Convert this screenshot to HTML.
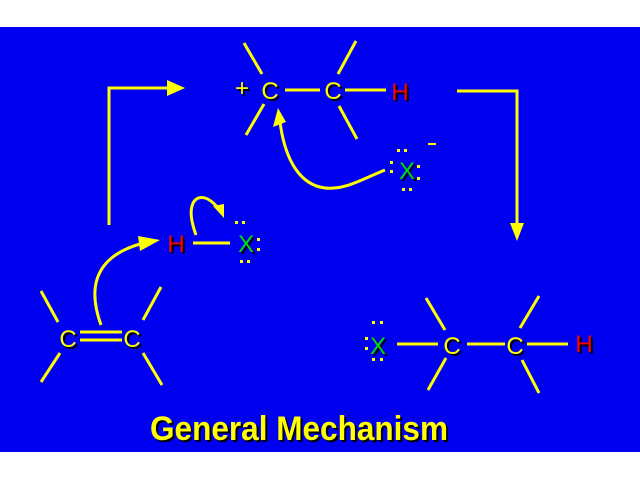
<!DOCTYPE html>
<html><head><style>html,body{margin:0;padding:0;background:#fff;}svg{display:block;}</style></head><body>
<svg width="640" height="480" xmlns="http://www.w3.org/2000/svg" font-family="Liberation Sans, sans-serif">
<rect x="0" y="27" width="640" height="425" fill="#0000F0"/>
<g stroke="#FFFF00" stroke-width="3" fill="none">
<polyline points="109,225 109,88 172,88"/>
<polyline points="457,91 517,91 517,225"/>
<line x1="285" y1="90" x2="320" y2="90"/><line x1="345" y1="90" x2="386" y2="90"/>
<line x1="244" y1="43" x2="262" y2="74"/><line x1="264" y1="104" x2="246" y2="135"/>
<line x1="356" y1="41" x2="338" y2="74"/><line x1="339" y1="106" x2="357" y2="139"/>
<path d="M385,170 C360,180 345,190 325,188 C300,185 285,160 280,122"/>
<line x1="193" y1="243" x2="230" y2="243"/>
<path d="M196,235 C185,205 195,195 205,198 C212,200 218,208 222,212"/>
<path d="M101,325 C92,300 85,260 140,244"/>
<line x1="80" y1="332" x2="122" y2="332"/><line x1="80" y1="340" x2="122" y2="340"/>
<line x1="41" y1="291" x2="58" y2="322"/><line x1="60" y1="353" x2="41" y2="382"/>
<line x1="161" y1="287" x2="143" y2="320"/><line x1="143" y1="353" x2="162" y2="385"/>
<line x1="397" y1="344" x2="438" y2="344"/><line x1="467" y1="344" x2="505" y2="344"/><line x1="527" y1="344" x2="568" y2="344"/>
<line x1="426" y1="298" x2="445" y2="330"/><line x1="446" y1="358" x2="428" y2="390"/>
<line x1="539" y1="296" x2="520" y2="328"/><line x1="522" y1="360" x2="539" y2="393"/>
</g>
<g fill="#FFFF00">
<polygon points="167,80 185,88 167,96"/>
<polygon points="510,223 517,241 524,223"/>
<polygon points="278,108 273,127 286,122"/>
<polygon points="213,206 224,218 224,204"/>
<polygon points="138,236 160,240 140,251"/>
</g>
<g font-size="24" text-anchor="middle">
<g fill="#000" transform="translate(2,2)">
<text x="242" y="96">+</text><text x="270" y="99">C</text><text x="333" y="99">C</text><text x="400" y="100">H</text>
<text x="407" y="179">X</text><text x="176" y="252">H</text><text x="246" y="252">X</text>
<text x="68" y="347">C</text><text x="132" y="347">C</text>
<text x="378" y="354">X</text><text x="452" y="354">C</text><text x="515" y="354">C</text><text x="584" y="352">H</text>
</g>
<text x="242" y="96" fill="#FFFF00">+</text><text x="270" y="99" fill="#FFFF00">C</text><text x="333" y="99" fill="#FFFF00">C</text><text x="400" y="100" fill="#FF0000">H</text>
<text x="407" y="179" fill="#00E000">X</text><text x="176" y="252" fill="#FF0000">H</text><text x="246" y="252" fill="#00E000">X</text>
<text x="68" y="347" fill="#FFFF00">C</text><text x="132" y="347" fill="#FFFF00">C</text>
<text x="378" y="354" fill="#00E000">X</text><text x="452" y="354" fill="#FFFF00">C</text><text x="515" y="354" fill="#FFFF00">C</text><text x="584" y="352" fill="#FF0000">H</text>
</g>
<rect x="428" y="143" width="8" height="2" fill="#FFFF00"/>
<g fill="#FFFF00">
<rect x="397" y="149" width="3" height="3"/><rect x="404" y="149" width="3" height="3"/>
<rect x="390" y="161" width="3" height="3"/><rect x="390" y="170" width="3" height="3"/>
<rect x="417" y="165" width="3" height="3"/><rect x="417" y="177" width="3" height="3"/>
<rect x="402" y="188" width="3" height="3"/><rect x="409" y="188" width="3" height="3"/>
<rect x="235" y="221" width="3" height="3"/><rect x="242" y="221" width="3" height="3"/>
<rect x="257" y="238" width="3" height="3"/><rect x="257" y="248" width="3" height="3"/>
<rect x="240" y="260" width="3" height="3"/><rect x="247" y="260" width="3" height="3"/>
<rect x="372" y="321" width="3" height="3"/><rect x="380" y="321" width="3" height="3"/>
<rect x="365" y="337" width="3" height="3"/><rect x="365" y="347" width="3" height="3"/>
<rect x="372" y="358" width="3" height="3"/><rect x="380" y="358" width="3" height="3"/>
</g>
<g font-size="34" font-weight="bold">
<text x="152" y="442" fill="#000" textLength="298" lengthAdjust="spacingAndGlyphs">General Mechanism</text>
<text x="150" y="440" fill="#FFFF00" textLength="298" lengthAdjust="spacingAndGlyphs">General Mechanism</text>
</g>
</svg>
</body></html>
